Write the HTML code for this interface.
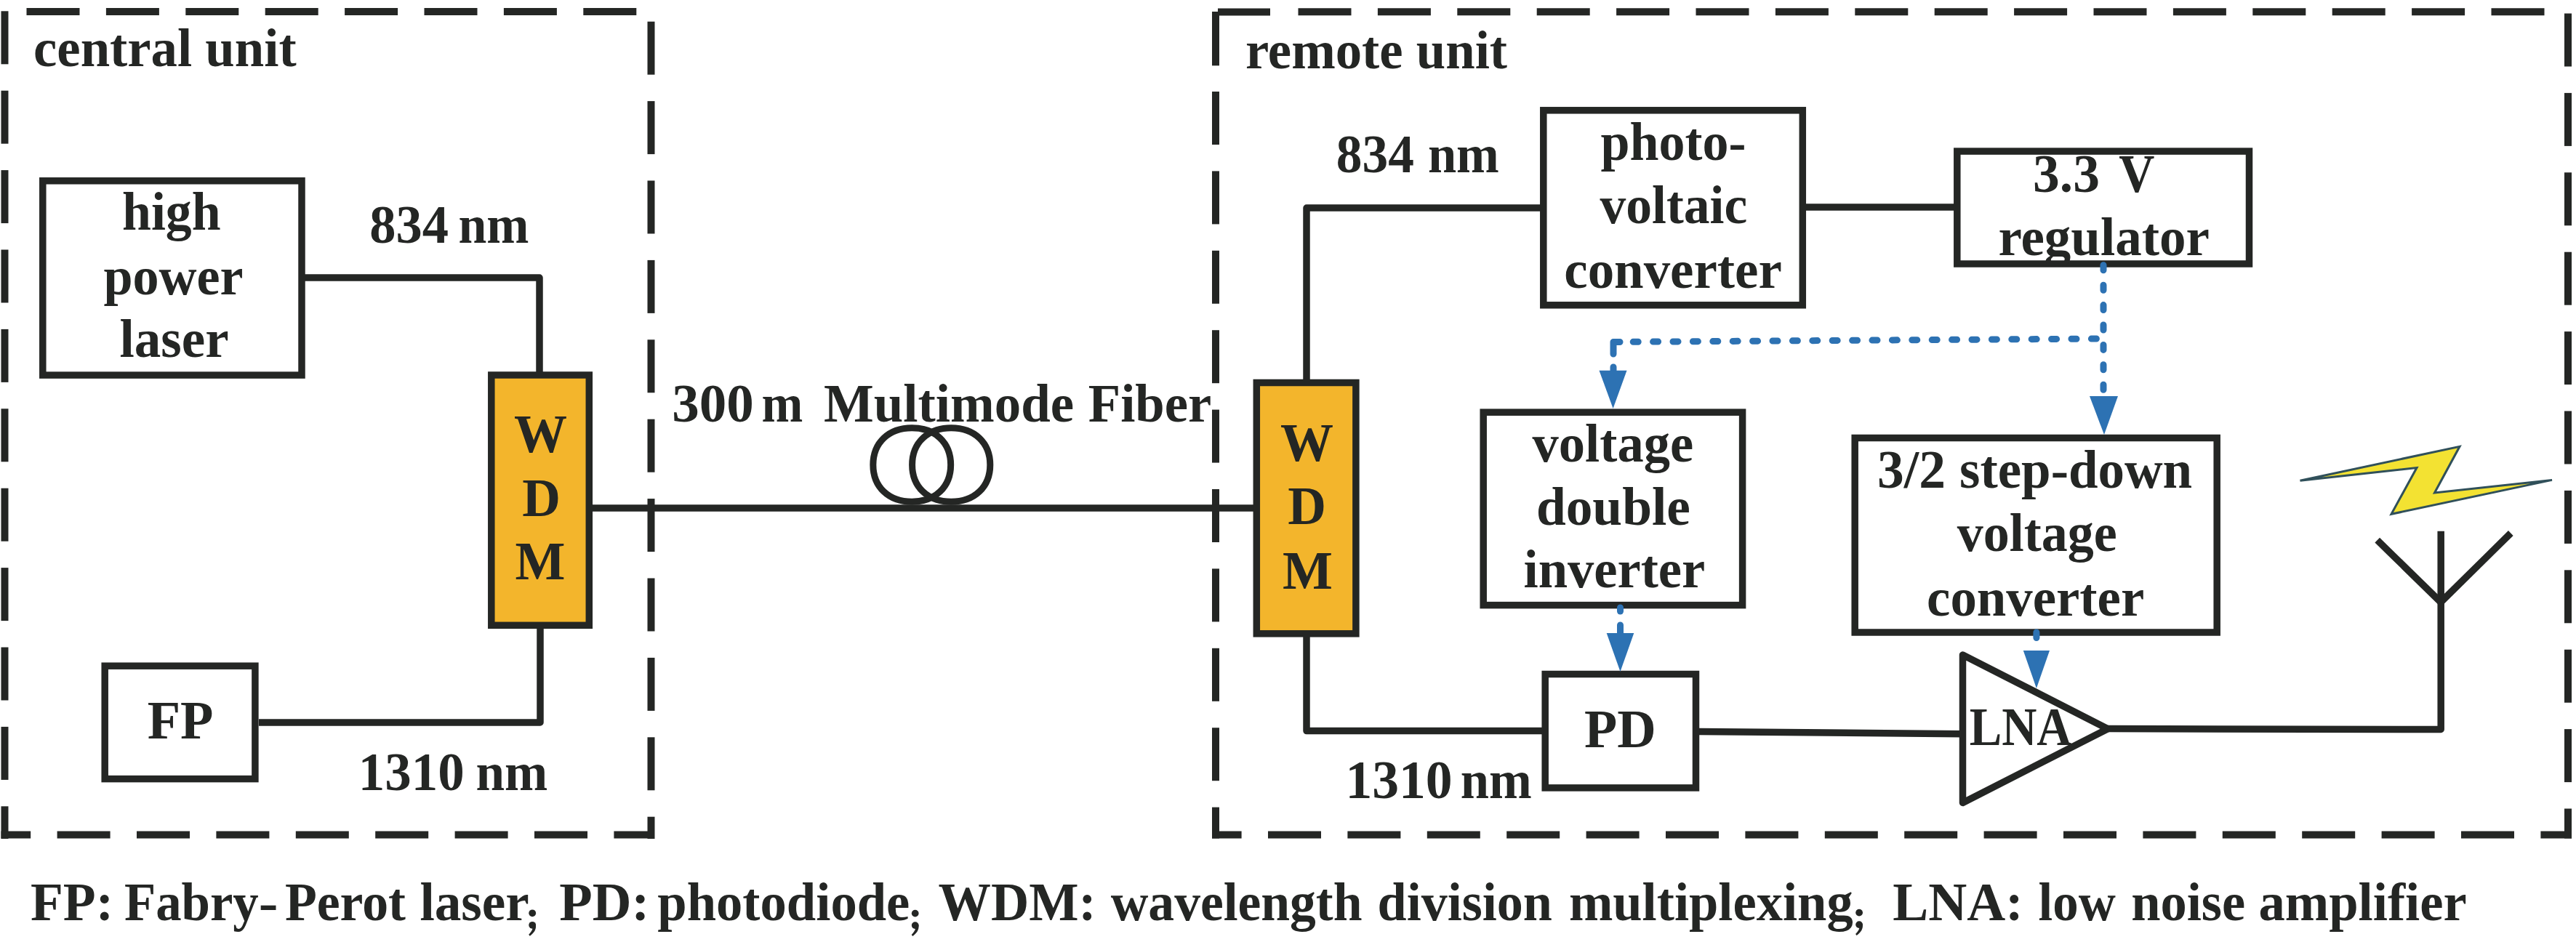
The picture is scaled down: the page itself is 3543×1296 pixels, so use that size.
<!DOCTYPE html>
<html><head><meta charset="utf-8"><style>
html,body{margin:0;padding:0;background:#fff;width:3543px;height:1296px;overflow:hidden}
svg{display:block;position:absolute;left:0;top:0}
text{font-family:"Liberation Serif",serif;font-weight:bold}
</style></head><body>
<svg width="3543" height="1296" viewBox="0 0 3543 1296">
<line x1="36.5" y1="16" x2="109.5" y2="16" stroke="#242624" stroke-width="10" />
<line x1="145.9" y1="16" x2="218.9" y2="16" stroke="#242624" stroke-width="10" />
<line x1="255.3" y1="16" x2="328.3" y2="16" stroke="#242624" stroke-width="10" />
<line x1="364.7" y1="16" x2="437.7" y2="16" stroke="#242624" stroke-width="10" />
<line x1="474.1" y1="16" x2="547.1" y2="16" stroke="#242624" stroke-width="10" />
<line x1="583.5" y1="16" x2="656.5" y2="16" stroke="#242624" stroke-width="10" />
<line x1="692.9" y1="16" x2="765.9" y2="16" stroke="#242624" stroke-width="10" />
<line x1="802.3" y1="16" x2="875.3" y2="16" stroke="#242624" stroke-width="10" />
<line x1="6.5" y1="15.3" x2="6.5" y2="88.3" stroke="#242624" stroke-width="10" />
<line x1="6.5" y1="124.7" x2="6.5" y2="197.7" stroke="#242624" stroke-width="10" />
<line x1="6.5" y1="234.1" x2="6.5" y2="307.1" stroke="#242624" stroke-width="10" />
<line x1="6.5" y1="343.5" x2="6.5" y2="416.5" stroke="#242624" stroke-width="10" />
<line x1="6.5" y1="452.9" x2="6.5" y2="525.9" stroke="#242624" stroke-width="10" />
<line x1="6.5" y1="562.3" x2="6.5" y2="635.3" stroke="#242624" stroke-width="10" />
<line x1="6.5" y1="671.7" x2="6.5" y2="744.7" stroke="#242624" stroke-width="10" />
<line x1="6.5" y1="781.1" x2="6.5" y2="854.1" stroke="#242624" stroke-width="10" />
<line x1="6.5" y1="890.5" x2="6.5" y2="963.5" stroke="#242624" stroke-width="10" />
<line x1="6.5" y1="999.9" x2="6.5" y2="1072.9" stroke="#242624" stroke-width="10" />
<line x1="6.5" y1="1109.3" x2="6.5" y2="1154" stroke="#242624" stroke-width="10" />
<line x1="1.5" y1="1148.5" x2="42.2" y2="1148.5" stroke="#242624" stroke-width="10" />
<line x1="78.6" y1="1148.5" x2="151.6" y2="1148.5" stroke="#242624" stroke-width="10" />
<line x1="188.0" y1="1148.5" x2="261.0" y2="1148.5" stroke="#242624" stroke-width="10" />
<line x1="297.4" y1="1148.5" x2="370.4" y2="1148.5" stroke="#242624" stroke-width="10" />
<line x1="406.8" y1="1148.5" x2="479.8" y2="1148.5" stroke="#242624" stroke-width="10" />
<line x1="516.2" y1="1148.5" x2="589.2" y2="1148.5" stroke="#242624" stroke-width="10" />
<line x1="625.6" y1="1148.5" x2="698.6" y2="1148.5" stroke="#242624" stroke-width="10" />
<line x1="735.0" y1="1148.5" x2="808.0" y2="1148.5" stroke="#242624" stroke-width="10" />
<line x1="844.4" y1="1148.5" x2="900" y2="1148.5" stroke="#242624" stroke-width="10" />
<line x1="895.5" y1="29.7" x2="895.5" y2="102.7" stroke="#242624" stroke-width="10" />
<line x1="895.5" y1="139.1" x2="895.5" y2="212.1" stroke="#242624" stroke-width="10" />
<line x1="895.5" y1="248.5" x2="895.5" y2="321.5" stroke="#242624" stroke-width="10" />
<line x1="895.5" y1="357.9" x2="895.5" y2="430.9" stroke="#242624" stroke-width="10" />
<line x1="895.5" y1="467.3" x2="895.5" y2="540.3" stroke="#242624" stroke-width="10" />
<line x1="895.5" y1="576.7" x2="895.5" y2="649.7" stroke="#242624" stroke-width="10" />
<line x1="895.5" y1="686.1" x2="895.5" y2="759.1" stroke="#242624" stroke-width="10" />
<line x1="895.5" y1="795.5" x2="895.5" y2="868.5" stroke="#242624" stroke-width="10" />
<line x1="895.5" y1="904.9" x2="895.5" y2="977.9" stroke="#242624" stroke-width="10" />
<line x1="895.5" y1="1014.3" x2="895.5" y2="1087.3" stroke="#242624" stroke-width="10" />
<line x1="895.5" y1="1123.7" x2="895.5" y2="1154" stroke="#242624" stroke-width="10" />
<line x1="1672" y1="90.3" x2="1672" y2="16" stroke="#242624" stroke-width="10" />
<line x1="1675" y1="16.5" x2="1747" y2="16.5" stroke="#242624" stroke-width="10" />
<line x1="1785.5" y1="16.2" x2="1858.5" y2="16.2" stroke="#242624" stroke-width="10" />
<line x1="1894.9" y1="16.2" x2="1967.9" y2="16.2" stroke="#242624" stroke-width="10" />
<line x1="2004.3" y1="16.2" x2="2077.3" y2="16.2" stroke="#242624" stroke-width="10" />
<line x1="2113.7" y1="16.2" x2="2186.7" y2="16.2" stroke="#242624" stroke-width="10" />
<line x1="2223.1" y1="16.2" x2="2296.1" y2="16.2" stroke="#242624" stroke-width="10" />
<line x1="2332.5" y1="16.2" x2="2405.5" y2="16.2" stroke="#242624" stroke-width="10" />
<line x1="2441.9" y1="16.2" x2="2514.9" y2="16.2" stroke="#242624" stroke-width="10" />
<line x1="2551.3" y1="16.2" x2="2624.3" y2="16.2" stroke="#242624" stroke-width="10" />
<line x1="2660.7" y1="16.2" x2="2733.7" y2="16.2" stroke="#242624" stroke-width="10" />
<line x1="2770.1" y1="16.2" x2="2843.1" y2="16.2" stroke="#242624" stroke-width="10" />
<line x1="2879.5" y1="16.2" x2="2952.5" y2="16.2" stroke="#242624" stroke-width="10" />
<line x1="2988.9" y1="16.2" x2="3061.9" y2="16.2" stroke="#242624" stroke-width="10" />
<line x1="3098.3" y1="16.2" x2="3171.3" y2="16.2" stroke="#242624" stroke-width="10" />
<line x1="3207.7" y1="16.2" x2="3280.7" y2="16.2" stroke="#242624" stroke-width="10" />
<line x1="3317.1" y1="16.2" x2="3390.1" y2="16.2" stroke="#242624" stroke-width="10" />
<line x1="3426.5" y1="16.2" x2="3499.5" y2="16.2" stroke="#242624" stroke-width="10" />
<line x1="3532" y1="18.5" x2="3532" y2="91.5" stroke="#242624" stroke-width="10" />
<line x1="3532" y1="127.9" x2="3532" y2="200.9" stroke="#242624" stroke-width="10" />
<line x1="3532" y1="237.3" x2="3532" y2="310.3" stroke="#242624" stroke-width="10" />
<line x1="3532" y1="346.7" x2="3532" y2="419.7" stroke="#242624" stroke-width="10" />
<line x1="3532" y1="456.1" x2="3532" y2="529.1" stroke="#242624" stroke-width="10" />
<line x1="3532" y1="565.5" x2="3532" y2="638.5" stroke="#242624" stroke-width="10" />
<line x1="3532" y1="674.9" x2="3532" y2="747.9" stroke="#242624" stroke-width="10" />
<line x1="3532" y1="784.3" x2="3532" y2="857.3" stroke="#242624" stroke-width="10" />
<line x1="3532" y1="893.7" x2="3532" y2="966.7" stroke="#242624" stroke-width="10" />
<line x1="3532" y1="1003.1" x2="3532" y2="1076.1" stroke="#242624" stroke-width="10" />
<line x1="3532" y1="1112.5" x2="3532" y2="1153.5" stroke="#242624" stroke-width="10" />
<line x1="1667" y1="1148.5" x2="1707.6" y2="1148.5" stroke="#242624" stroke-width="10" />
<line x1="1744.0" y1="1148.5" x2="1817.0" y2="1148.5" stroke="#242624" stroke-width="10" />
<line x1="1853.4" y1="1148.5" x2="1926.4" y2="1148.5" stroke="#242624" stroke-width="10" />
<line x1="1962.8" y1="1148.5" x2="2035.8" y2="1148.5" stroke="#242624" stroke-width="10" />
<line x1="2072.2" y1="1148.5" x2="2145.2" y2="1148.5" stroke="#242624" stroke-width="10" />
<line x1="2181.6" y1="1148.5" x2="2254.6" y2="1148.5" stroke="#242624" stroke-width="10" />
<line x1="2291.0" y1="1148.5" x2="2364.0" y2="1148.5" stroke="#242624" stroke-width="10" />
<line x1="2400.4" y1="1148.5" x2="2473.4" y2="1148.5" stroke="#242624" stroke-width="10" />
<line x1="2509.8" y1="1148.5" x2="2582.8" y2="1148.5" stroke="#242624" stroke-width="10" />
<line x1="2619.2" y1="1148.5" x2="2692.2" y2="1148.5" stroke="#242624" stroke-width="10" />
<line x1="2728.6" y1="1148.5" x2="2801.6" y2="1148.5" stroke="#242624" stroke-width="10" />
<line x1="2838.0" y1="1148.5" x2="2911.0" y2="1148.5" stroke="#242624" stroke-width="10" />
<line x1="2947.4" y1="1148.5" x2="3020.4" y2="1148.5" stroke="#242624" stroke-width="10" />
<line x1="3056.8" y1="1148.5" x2="3129.8" y2="1148.5" stroke="#242624" stroke-width="10" />
<line x1="3166.2" y1="1148.5" x2="3239.2" y2="1148.5" stroke="#242624" stroke-width="10" />
<line x1="3275.6" y1="1148.5" x2="3348.6" y2="1148.5" stroke="#242624" stroke-width="10" />
<line x1="3385.0" y1="1148.5" x2="3458.0" y2="1148.5" stroke="#242624" stroke-width="10" />
<line x1="3494.4" y1="1148.5" x2="3537" y2="1148.5" stroke="#242624" stroke-width="10" />
<line x1="1672" y1="126" x2="1672" y2="199" stroke="#242624" stroke-width="10" />
<line x1="1672" y1="235.4" x2="1672" y2="308.4" stroke="#242624" stroke-width="10" />
<line x1="1672" y1="344.8" x2="1672" y2="417.8" stroke="#242624" stroke-width="10" />
<line x1="1672" y1="454.2" x2="1672" y2="527.2" stroke="#242624" stroke-width="10" />
<line x1="1672" y1="563.6" x2="1672" y2="636.6" stroke="#242624" stroke-width="10" />
<line x1="1672" y1="673.0" x2="1672" y2="746.0" stroke="#242624" stroke-width="10" />
<line x1="1672" y1="782.4" x2="1672" y2="855.4" stroke="#242624" stroke-width="10" />
<line x1="1672" y1="891.8" x2="1672" y2="964.8" stroke="#242624" stroke-width="10" />
<line x1="1672" y1="1001.2" x2="1672" y2="1074.2" stroke="#242624" stroke-width="10" />
<line x1="1672" y1="1110.6" x2="1672" y2="1153.5" stroke="#242624" stroke-width="10" />
<rect x="58.8" y="248.8" width="356.2" height="267.3" stroke="#242624" stroke-width="9.5" fill="none"/>
<polyline points="419,382 742,382 742,512" stroke="#242624" stroke-width="9.5" fill="none" stroke-linejoin="round" />
<rect x="675.8" y="516.0" width="134.5" height="344.3" stroke="#242624" stroke-width="9.5" fill="#F3B52C"/>
<polyline points="743,864 743,994 356,994" stroke="#242624" stroke-width="9.5" fill="none" stroke-linejoin="round" />
<rect x="144.2" y="916.2" width="206.7" height="155.4" stroke="#242624" stroke-width="9.5" fill="none"/>
<line x1="814" y1="699" x2="1725" y2="699" stroke="#242624" stroke-width="9.5" />
<path d="M1200.85,639.5 C1200.85,609.02 1222.21,588.7 1254.25,588.7 C1286.29,588.7 1307.65,609.02 1307.65,639.5 C1307.65,669.98 1286.29,690.3 1254.25,690.3 C1222.21,690.3 1200.85,669.98 1200.85,639.5 Z" stroke="#242624" stroke-width="9" fill="none"/>
<path d="M1254.6000000000001,639.5 C1254.6000000000001,609.02 1276.04,588.7 1308.2,588.7 C1340.3600000000001,588.7 1361.8,609.02 1361.8,639.5 C1361.8,669.98 1340.3600000000001,690.3 1308.2,690.3 C1276.04,690.3 1254.6000000000001,669.98 1254.6000000000001,639.5 Z" stroke="#242624" stroke-width="9" fill="none"/>
<text x="46.1" y="91.3" font-size="73" fill="#242624"  textLength="361.50" lengthAdjust="spacingAndGlyphs">central unit</text>
<text x="168.0" y="316.0" font-size="73" fill="#242624"  textLength="135.57" lengthAdjust="spacingAndGlyphs">high</text>
<text x="142.4" y="405.0" font-size="73" fill="#242624"  textLength="192.16" lengthAdjust="spacingAndGlyphs">power</text>
<text x="164.4" y="491.2" font-size="73" fill="#242624"  textLength="150.20" lengthAdjust="spacingAndGlyphs">laser</text>
<text x="508.3" y="334.1" font-size="73" fill="#242624"  textLength="108.75" lengthAdjust="spacingAndGlyphs">834</text>
<text x="630.4" y="334.1" font-size="73" fill="#242624"  textLength="96.97" lengthAdjust="spacingAndGlyphs">nm</text>
<text x="743.5" y="622.0" font-size="73" fill="#242624" text-anchor="middle">W</text>
<text x="744.5" y="710.0" font-size="73" fill="#242624" text-anchor="middle">D</text>
<text x="743.0" y="797.0" font-size="73" fill="#242624" text-anchor="middle">M</text>
<text x="202.7" y="1015.8" font-size="73" fill="#242624"  textLength="90.88" lengthAdjust="spacingAndGlyphs">FP</text>
<text x="492.8" y="1086.5" font-size="73" fill="#242624"  textLength="146.03" lengthAdjust="spacingAndGlyphs">1310</text>
<text x="654.5" y="1086.5" font-size="73" fill="#242624"  textLength="98.72" lengthAdjust="spacingAndGlyphs">nm</text>
<text x="924.2" y="580.0" font-size="73" fill="#242624"  textLength="112.58" lengthAdjust="spacingAndGlyphs">300</text>
<text x="1047.6" y="580.0" font-size="73" fill="#242624"  textLength="56.80" lengthAdjust="spacingAndGlyphs">m</text>
<text x="1133.0" y="580.0" font-size="73" fill="#242624"  textLength="344.03" lengthAdjust="spacingAndGlyphs">Multimode</text>
<text x="1496.8" y="580.0" font-size="73" fill="#242624"  textLength="169.50" lengthAdjust="spacingAndGlyphs">Fiber</text>
<rect x="1728.3" y="526.5" width="136.6" height="345.3" stroke="#242624" stroke-width="9.5" fill="#F3B52C"/>
<text x="1797.5" y="633.5" font-size="73" fill="#242624" text-anchor="middle">W</text>
<text x="1797.5" y="721.4" font-size="73" fill="#242624" text-anchor="middle">D</text>
<text x="1798.5" y="809.7" font-size="73" fill="#242624" text-anchor="middle">M</text>
<polyline points="1797,523 1797,286 2119.5,286" stroke="#242624" stroke-width="9.5" fill="none" stroke-linejoin="round" />
<rect x="2122.8" y="151.8" width="356.5" height="268.0" stroke="#242624" stroke-width="9.5" fill="none"/>
<line x1="2483" y1="285" x2="2688.5" y2="285" stroke="#242624" stroke-width="9.5" />
<rect x="2691.8" y="208.1" width="401.7" height="154.9" stroke="#242624" stroke-width="9.5" fill="none"/>
<text x="1712.9" y="93.7" font-size="73" fill="#242624"  textLength="360.16" lengthAdjust="spacingAndGlyphs">remote unit</text>
<text x="1837.8" y="236.6" font-size="73" fill="#242624"  textLength="107.10" lengthAdjust="spacingAndGlyphs">834</text>
<text x="1963.9" y="236.6" font-size="73" fill="#242624"  textLength="98.00" lengthAdjust="spacingAndGlyphs">nm</text>
<text x="2201.5" y="219.7" font-size="73" fill="#242624"  textLength="199.95" lengthAdjust="spacingAndGlyphs">photo-</text>
<text x="2200.5" y="307.3" font-size="73" fill="#242624"  textLength="202.78" lengthAdjust="spacingAndGlyphs">voltaic</text>
<text x="2151.3" y="396.0" font-size="73" fill="#242624"  textLength="299.56" lengthAdjust="spacingAndGlyphs">converter</text>
<text x="2796.0" y="263.6" font-size="73" fill="#242624"  textLength="91.88" lengthAdjust="spacingAndGlyphs">3.3</text>
<text x="2914.3" y="263.6" font-size="73" fill="#242624"  textLength="49.13" lengthAdjust="spacingAndGlyphs">V</text>
<text x="2748.4" y="351.0" font-size="73" fill="#242624"  textLength="290.51" lengthAdjust="spacingAndGlyphs">regulator</text>
<rect x="2040.2" y="567.2" width="356.4" height="265.4" stroke="#242624" stroke-width="9.5" fill="none"/>
<text x="2107.6" y="634.9" font-size="73" fill="#242624"  textLength="221.48" lengthAdjust="spacingAndGlyphs">voltage</text>
<text x="2112.9" y="721.9" font-size="73" fill="#242624"  textLength="211.97" lengthAdjust="spacingAndGlyphs">double</text>
<text x="2095.5" y="807.5" font-size="73" fill="#242624"  textLength="249.75" lengthAdjust="spacingAndGlyphs">inverter</text>
<rect x="2551.2" y="602.5" width="498.0" height="267.5" stroke="#242624" stroke-width="9.5" fill="none"/>
<text x="2582.1" y="670.9" font-size="73" fill="#242624"  textLength="93.92" lengthAdjust="spacingAndGlyphs">3/2</text>
<text x="2695.1" y="670.9" font-size="73" fill="#242624"  textLength="320.01" lengthAdjust="spacingAndGlyphs">step-down</text>
<text x="2691.8" y="757.6" font-size="73" fill="#242624"  textLength="219.86" lengthAdjust="spacingAndGlyphs">voltage</text>
<text x="2650.1" y="846.9" font-size="73" fill="#242624"  textLength="299.15" lengthAdjust="spacingAndGlyphs">converter</text>
<rect x="2125.2" y="927.5" width="207.3" height="156.4" stroke="#242624" stroke-width="9.5" fill="none"/>
<text x="2179.1" y="1027.5" font-size="73" fill="#242624"  textLength="98.78" lengthAdjust="spacingAndGlyphs">PD</text>
<polyline points="1797,876 1797,1005.6 2122.3,1005.6" stroke="#242624" stroke-width="9.5" fill="none" stroke-linejoin="round" />
<text x="1850.4" y="1097.6" font-size="73" fill="#242624"  textLength="147.30" lengthAdjust="spacingAndGlyphs">1310</text>
<text x="2008.7" y="1097.6" font-size="73" fill="#242624"  textLength="98.00" lengthAdjust="spacingAndGlyphs">nm</text>
<line x1="2336.7" y1="1006.5" x2="2700" y2="1009.8" stroke="#242624" stroke-width="9.5" />
<polygon points="2699.5,901 2699.5,1104.5 2899,1002.7" stroke="#242624" stroke-width="9.5" fill="none" stroke-linejoin="round"/>
<text x="2708.7" y="1025.0" font-size="73" fill="#242624"  textLength="140.83" lengthAdjust="spacingAndGlyphs">LNA</text>
<polyline points="2899,1002.6 3357.2,1003.5 3357.2,730.8" stroke="#242624" stroke-width="9.5" fill="none" stroke-linejoin="round" />
<line x1="3269.7" y1="743.2" x2="3357" y2="828.5" stroke="#242624" stroke-width="9.5" />
<line x1="3453.3" y1="733.5" x2="3357" y2="828.5" stroke="#242624" stroke-width="9.5" />
<polygon points="3163.5,661.2 3383,614.3 3348.5,678 3510,660.4 3289,707.3 3324,643.5" fill="#F3E232" stroke="#30505A" stroke-width="3" stroke-linejoin="miter"/>
<line x1="2893" y1="364.8" x2="2893" y2="545" stroke="#2D72B3" stroke-width="9" stroke-dasharray="7 20.4" stroke-linecap="round"/>
<line x1="2246.2" y1="470.3" x2="2890" y2="466" stroke="#2D72B3" stroke-width="9" stroke-dasharray="7 20.4" stroke-linecap="round"/>
<polyline points="2228,470.5 2219,470.5 2219,487" stroke="#2D72B3" stroke-width="9" fill="none" stroke-linecap="round" stroke-linejoin="round"/>
<line x1="2219" y1="505" x2="2219" y2="512" stroke="#2D72B3" stroke-width="9" stroke-linecap="round"/>
<polygon points="2199.5,509.8 2237.5,509.8 2218.6,562" fill="#2D72B3"/>
<polygon points="2874,545 2913,545 2894,598" fill="#2D72B3"/>
<line x1="2228.5" y1="836" x2="2228.5" y2="841" stroke="#2D72B3" stroke-width="9" stroke-linecap="round"/>
<line x1="2228.5" y1="860" x2="2228.5" y2="872" stroke="#2D72B3" stroke-width="9" stroke-linecap="round"/>
<polygon points="2209.7,871 2247.3,871 2228.5,924" fill="#2D72B3"/>
<line x1="2800.9" y1="870" x2="2800.9" y2="877.5" stroke="#2D72B3" stroke-width="9" stroke-linecap="round"/>
<polygon points="2782.8,895 2819,895 2800.9,946.9" fill="#2D72B3"/>
<text x="41.9" y="1265.6" font-size="73" fill="#242624"  textLength="114.22" lengthAdjust="spacingAndGlyphs">FP:</text>
<text x="170.9" y="1265.6" font-size="73" fill="#242624"  textLength="184.80" lengthAdjust="spacingAndGlyphs">Fabry</text>
<text x="391.9" y="1265.6" font-size="73" fill="#242624"  textLength="166.03" lengthAdjust="spacingAndGlyphs">Perot</text>
<text x="577.4" y="1265.6" font-size="73" fill="#242624"  textLength="150.40" lengthAdjust="spacingAndGlyphs">laser</text>
<text x="769.3" y="1265.6" font-size="73" fill="#242624"  textLength="124.02" lengthAdjust="spacingAndGlyphs">PD:</text>
<text x="904.3" y="1265.6" font-size="73" fill="#242624"  textLength="347.00" lengthAdjust="spacingAndGlyphs">photodiode</text>
<text x="1290.5" y="1265.6" font-size="73" fill="#242624"  textLength="217.09" lengthAdjust="spacingAndGlyphs">WDM:</text>
<text x="1527.7" y="1265.6" font-size="73" fill="#242624"  textLength="345.79" lengthAdjust="spacingAndGlyphs">wavelength</text>
<text x="1894.6" y="1265.6" font-size="73" fill="#242624"  textLength="240.31" lengthAdjust="spacingAndGlyphs">division</text>
<text x="2157.9" y="1265.6" font-size="73" fill="#242624"  textLength="390.76" lengthAdjust="spacingAndGlyphs">multiplexing</text>
<text x="2603.3" y="1265.6" font-size="73" fill="#242624"  textLength="179.41" lengthAdjust="spacingAndGlyphs">LNA:</text>
<text x="2803.6" y="1265.6" font-size="73" fill="#242624"  textLength="106.16" lengthAdjust="spacingAndGlyphs">low</text>
<text x="2931.2" y="1265.6" font-size="73" fill="#242624"  textLength="156.92" lengthAdjust="spacingAndGlyphs">noise</text>
<text x="3106.4" y="1265.6" font-size="73" fill="#242624"  textLength="286.30" lengthAdjust="spacingAndGlyphs">amplifier</text>
<text x="355.7" y="1265.6" font-size="73" fill="#242624"  textLength="26.66" lengthAdjust="spacingAndGlyphs">-</text>
<circle cx="732.2" cy="1256.3" r="4.9" fill="#242624"/>
<circle cx="732.2" cy="1272.8" r="4.9" fill="#242624"/>
<path d="M736.8000000000001,1271.8 C738.2,1278.8 734.2,1283.8 728.7,1287.8 L727.2,1285.8 C731.2,1281.8 733.2,1277.8 732.2,1275.8 Z" fill="#242624"/>
<circle cx="1258.7" cy="1256.6" r="4.9" fill="#242624"/>
<circle cx="1258.7" cy="1273.1" r="4.9" fill="#242624"/>
<path d="M1263.3,1272.1 C1264.7,1279.1 1260.7,1284.1 1255.2,1288.1 L1253.7,1286.1 C1257.7,1282.1 1259.7,1278.1 1258.7,1276.1 Z" fill="#242624"/>
<circle cx="2557.1" cy="1255.6" r="4.9" fill="#242624"/>
<circle cx="2557.1" cy="1272.1" r="4.9" fill="#242624"/>
<path d="M2561.7,1271.1 C2563.1,1278.1 2559.1,1283.1 2553.6,1287.1 L2552.1,1285.1 C2556.1,1281.1 2558.1,1277.1 2557.1,1275.1 Z" fill="#242624"/>
</svg>
</body></html>
